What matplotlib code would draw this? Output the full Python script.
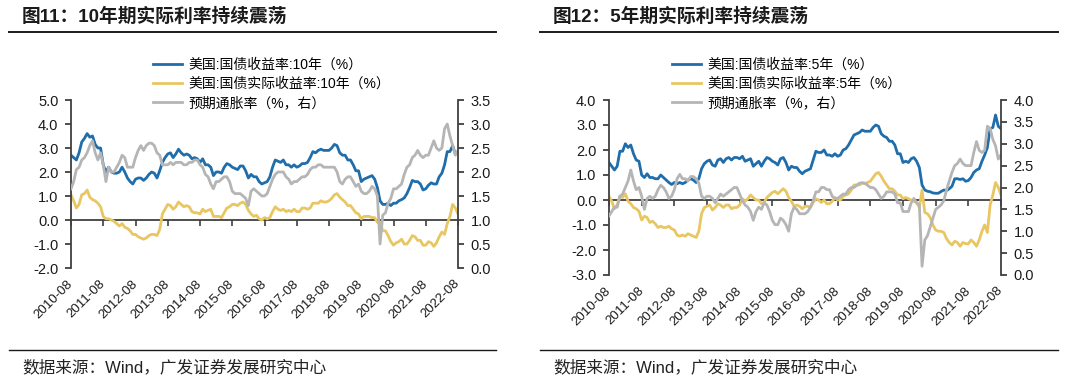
"""Two-panel chart: US 10Y / 5Y nominal yield, real (TIPS) yield and breakeven inflation.

Monthly values read off the reference picture, 2010-08 .. 2022-08.
Left axis carries nominal and real yields, right axis the breakeven rate.
Writes out.png (1080x381).
"""
import numpy as np
import pandas as pd
import matplotlib
matplotlib.use("Agg")
import matplotlib.pyplot as plt
from matplotlib.lines import Line2D

plt.rcParams["font.family"] = ["Liberation Sans", "Noto Sans CJK SC", "DejaVu Sans"]

W, H = 1080, 381

# --- data (monthly, 2010-08 .. 2022-08) ---------------------------------
MONTHS = pd.date_range("2010-08-01", "2022-08-01", freq="MS").strftime("%Y-%m").tolist()

US10Y = [
    2.70, 2.60, 2.50, 2.80, 3.25,
    3.40, 3.60, 3.45, 3.50, 3.15, 3.00, 3.00, 2.30, 2.00, 2.20, 2.00, 1.95,
    1.95, 2.00, 2.20, 2.00, 1.75, 1.60, 1.50, 1.70, 1.75, 1.75, 1.65, 1.75,
    1.90, 2.00, 1.95, 1.75, 2.05, 2.40, 2.60, 2.75, 2.80, 2.60, 2.75, 2.95,
    2.80, 2.70, 2.75, 2.70, 2.55, 2.60, 2.55, 2.40, 2.55, 2.30, 2.30, 2.20,
    1.85, 2.00, 2.00, 1.95, 2.20, 2.35, 2.30, 2.20, 2.15, 2.10, 2.25, 2.25,
    2.05, 1.75, 1.90, 1.80, 1.80, 1.60, 1.50, 1.55, 1.60, 1.80, 2.20, 2.50,
    2.45, 2.40, 2.50, 2.30, 2.30, 2.20, 2.30, 2.20, 2.25, 2.35, 2.35, 2.40,
    2.60, 2.85, 2.80, 2.90, 2.95, 2.90, 2.90, 2.90, 3.00, 3.15, 3.10, 2.80,
    2.70, 2.70, 2.50, 2.50, 2.30, 2.05, 2.05, 1.60, 1.70, 1.75, 1.80, 1.85,
    1.70, 1.35, 0.80, 0.65, 0.65, 0.70, 0.60, 0.70, 0.70, 0.80, 0.85, 0.92,
    1.10, 1.35, 1.65, 1.60, 1.60, 1.50, 1.25, 1.30, 1.45, 1.55, 1.50, 1.50,
    1.80, 1.95, 2.30, 2.85, 2.85, 3.10, 2.75, 2.80,
]
TIPS10Y = [
    1.05, 0.80, 0.50, 0.65, 1.05,
    1.10, 1.25, 0.95, 0.85, 0.80, 0.70, 0.55, 0.15, 0.05, 0.05, 0.00, -0.05,
    -0.15, -0.25, -0.15, -0.30, -0.35, -0.45, -0.60, -0.60, -0.70, -0.75, -0.80, -0.75,
    -0.65, -0.60, -0.60, -0.65, -0.40, 0.25, 0.45, 0.65, 0.60, 0.45, 0.55, 0.75,
    0.65, 0.55, 0.60, 0.55, 0.35, 0.30, 0.30, 0.25, 0.45, 0.35, 0.40, 0.45,
    0.15, 0.15, 0.15, 0.10, 0.30, 0.50, 0.55, 0.65, 0.65, 0.60, 0.70, 0.75,
    0.65, 0.40, 0.25, 0.15, 0.20, 0.05, 0.00, 0.10, 0.05, 0.10, 0.35, 0.55,
    0.45, 0.40, 0.45, 0.35, 0.40, 0.35, 0.45, 0.35, 0.35, 0.50, 0.50, 0.45,
    0.50, 0.70, 0.70, 0.70, 0.80, 0.75, 0.75, 0.80, 0.90, 1.05, 1.10, 0.95,
    0.85, 0.75, 0.60, 0.60, 0.45, 0.30, 0.25, 0.05, 0.15, 0.15, 0.15, 0.10,
    0.10, -0.10, -0.10, -0.45, -0.45, -0.65, -0.90, -1.05, -0.95, -0.90, -0.80, -1.00,
    -1.00, -0.85, -0.65, -0.70, -0.85, -0.85, -1.05, -1.05, -0.90, -0.95, -1.10, -0.95,
    -0.70, -0.50, -0.60, -0.15, 0.15, 0.65, 0.50, 0.25,
]
BEI10Y = [
    1.65, 1.80, 2.05, 2.10, 2.25,
    2.30, 2.40, 2.55, 2.65, 2.40, 2.25, 2.40, 2.15, 1.80, 2.10, 2.00, 2.00,
    2.10, 2.20, 2.35, 2.30, 2.10, 2.10, 2.10, 2.30, 2.45, 2.55, 2.45, 2.55,
    2.60, 2.60, 2.55, 2.40, 2.35, 2.15, 2.15, 2.15, 2.20, 2.15, 2.20, 2.20,
    2.20, 2.15, 2.15, 2.20, 2.20, 2.25, 2.25, 2.15, 2.10, 1.95, 1.90, 1.75,
    1.65, 1.80, 1.80, 1.85, 1.90, 1.90, 1.80, 1.60, 1.55, 1.55, 1.55, 1.50,
    1.45, 1.30, 1.60, 1.65, 1.60, 1.55, 1.50, 1.50, 1.55, 1.70, 1.85, 1.95,
    2.00, 2.00, 2.00, 1.90, 1.85, 1.75, 1.80, 1.80, 1.85, 1.90, 1.90, 1.95,
    2.05, 2.10, 2.10, 2.15, 2.15, 2.10, 2.10, 2.10, 2.10, 2.10, 2.00, 1.80,
    1.75, 1.85, 1.90, 1.90, 1.80, 1.70, 1.75, 1.60, 1.55, 1.55, 1.60, 1.70,
    1.65, 1.50, 0.50, 1.10, 1.15, 1.35, 1.45, 1.65, 1.65, 1.70, 1.75, 1.95,
    2.10, 2.15, 2.30, 2.35, 2.45, 2.35, 2.30, 2.35, 2.35, 2.50, 2.65, 2.50,
    2.45, 2.50, 2.90, 3.00, 2.75, 2.55, 2.35, 2.45,
]

US5Y = [
    1.50, 1.35, 1.20, 1.35, 1.95,
    1.95, 2.25, 2.10, 2.20, 1.85, 1.60, 1.55, 1.00, 0.90, 1.05, 0.90, 0.90,
    0.85, 0.85, 1.00, 0.90, 0.80, 0.70, 0.62, 0.70, 0.65, 0.70, 0.65, 0.70,
    0.80, 0.85, 0.80, 0.70, 0.85, 1.25, 1.45, 1.55, 1.60, 1.40, 1.35, 1.60,
    1.65, 1.50, 1.65, 1.70, 1.60, 1.70, 1.70, 1.65, 1.75, 1.55, 1.60, 1.65,
    1.35, 1.45, 1.55, 1.35, 1.55, 1.70, 1.65, 1.55, 1.50, 1.40, 1.65, 1.70,
    1.50, 1.20, 1.35, 1.30, 1.30, 1.15, 1.05, 1.15, 1.20, 1.25, 1.60, 1.95,
    1.90, 1.90, 2.00, 1.80, 1.80, 1.75, 1.85, 1.75, 1.80, 2.00, 2.05, 2.20,
    2.40, 2.60, 2.65, 2.70, 2.80, 2.75, 2.75, 2.75, 2.90, 3.00, 2.95, 2.65,
    2.55, 2.50, 2.35, 2.35, 2.20, 1.85, 1.85, 1.50, 1.55, 1.50, 1.65, 1.70,
    1.55, 1.30, 0.60, 0.40, 0.35, 0.33, 0.28, 0.27, 0.27, 0.34, 0.40, 0.38,
    0.45, 0.55, 0.85, 0.85, 0.82, 0.85, 0.75, 0.78, 0.90, 1.10, 1.20, 1.25,
    1.55, 1.80, 2.10, 2.85, 2.90, 3.40, 2.95, 2.85,
]
TIPS5Y = [
    0.15, -0.05, -0.35, -0.20, 0.15,
    0.10, 0.25, -0.05, -0.15, -0.30, -0.35, -0.45, -0.80, -0.65, -0.70, -0.90, -0.85,
    -0.95, -1.10, -1.05, -1.10, -1.10, -1.05, -1.15, -1.20, -1.40, -1.45, -1.40, -1.45,
    -1.35, -1.40, -1.45, -1.50, -1.25, -0.55, -0.30, -0.25, -0.20, -0.40, -0.30, -0.15,
    -0.20, -0.30, -0.20, -0.20, -0.35, -0.30, -0.30, -0.20, 0.05, -0.05, 0.05, 0.20,
    0.10, 0.00, 0.00, -0.15, -0.10, 0.10, 0.20, 0.30, 0.35, 0.25, 0.35, 0.45,
    0.35, 0.10, -0.05, -0.25, -0.20, -0.25, -0.35, -0.25, -0.25, -0.30, -0.10, 0.05,
    0.00, -0.10, 0.00, -0.15, -0.15, -0.05, 0.10, 0.00, 0.00, 0.15, 0.20, 0.25,
    0.40, 0.60, 0.60, 0.60, 0.70, 0.65, 0.70, 0.75, 0.90, 1.05, 1.10, 0.95,
    0.75, 0.60, 0.45, 0.45, 0.35, 0.20, 0.20, 0.05, 0.10, 0.05, 0.00, -0.05,
    -0.10, -0.30, 0.40, -0.50, -0.55, -0.70, -1.00, -1.20, -1.25, -1.25, -1.30, -1.55,
    -1.70, -1.80, -1.65, -1.70, -1.85, -1.70, -1.75, -1.75, -1.60, -1.70, -1.85, -1.60,
    -1.25, -1.00, -1.30, -0.20, 0.20, 0.70, 0.50, 0.20,
]
BEI5Y = [
    1.35, 1.45, 1.55, 1.55, 1.80,
    1.85, 2.00, 2.15, 2.40, 2.15, 1.95, 2.00, 1.80, 1.50, 1.75, 1.80, 1.75,
    1.80, 1.95, 2.05, 2.00, 1.90, 1.75, 1.80, 1.95, 2.20, 2.30, 2.20, 2.20,
    2.15, 2.25, 2.25, 2.20, 2.10, 1.80, 1.75, 1.80, 1.80, 1.75, 1.65, 1.75,
    1.85, 1.80, 1.85, 1.90, 1.95, 2.00, 2.00, 1.85, 1.70, 1.60, 1.55, 1.45,
    1.25, 1.45, 1.55, 1.50, 1.65, 1.60, 1.45, 1.25, 1.15, 1.15, 1.30, 1.25,
    1.15, 1.00, 1.40, 1.55, 1.50, 1.40, 1.40, 1.40, 1.45, 1.55, 1.70, 1.90,
    1.90, 2.00, 2.00, 1.95, 1.95, 1.80, 1.75, 1.75, 1.80, 1.85, 1.85, 1.95,
    2.00, 2.00, 2.05, 2.10, 2.10, 2.10, 2.05, 2.00, 2.00, 1.95, 1.85, 1.75,
    1.80, 1.90, 1.90, 1.90, 1.85, 1.65, 1.65, 1.45, 1.45, 1.45, 1.65, 1.75,
    1.65, 1.60, 0.20, 0.80, 0.90, 1.10, 1.30, 1.50, 1.55, 1.60, 1.70, 1.95,
    2.15, 2.35, 2.50, 2.55, 2.65, 2.55, 2.50, 2.50, 2.50, 2.80, 3.05, 2.85,
    2.80, 2.85, 3.40, 3.35, 3.10, 2.95, 2.65, 2.75,
]

LEFT_TITLE = "图11：10年期实际利率持续震荡"
RIGHT_TITLE = "图12：5年期实际利率持续震荡"
LEFT_LABELS = ["美国:国债收益率:10年（%）", "美国:国债实际收益率:10年（%）", "预期通胀率（%，右）"]
RIGHT_LABELS = ["美国:国债收益率:5年（%）", "美国:国债实际收益率:5年（%）", "预期通胀率（%，右）"]
SOURCE = "数据来源：Wind，广发证券发展研究中心"

BLUE = "#1f6dab"
GOLD = "#e8c662"
GREY = "#b5b5b5"
SPINE = "#404040"


def fx(px):
    return px / W


def fy(py):
    return 1 - py / H


def draw_panel(fig, box, nominal, real, bei, left_ticks, right_ticks, labels, legend_x):
    x0, x1, y_top, y_bot = box
    ax = fig.add_axes([fx(x0), fy(y_bot), fx(x1 - x0), fy(y_top) - fy(y_bot)])
    ax2 = ax.twinx()
    x = np.arange(len(MONTHS))

    l1, = ax.plot(x, nominal, color=BLUE, lw=2.0)
    l2, = ax.plot(x, real, color=GOLD, lw=2.0)
    l3, = ax2.plot(x, bei, color=GREY, lw=2.0)

    ax.set_xlim(0, len(MONTHS) - 1)
    ax.set_ylim(left_ticks[0], left_ticks[-1])
    ax2.set_ylim(right_ticks[0], right_ticks[-1])
    ax.set_yticks(left_ticks)
    ax.set_yticklabels([f"{v:.1f}" for v in left_ticks])
    ax2.set_yticks(right_ticks)
    ax2.set_yticklabels([f"{v:.1f}" for v in right_ticks])

    xt = x[::12]
    ax.set_xticks(xt)
    ax.set_xticklabels([MONTHS[i] for i in xt], rotation=45, ha="right",
                       va="center", rotation_mode="anchor")
    ax.tick_params(axis="x", length=0, pad=10, labelsize=9.5, labelcolor="#1a1a1a")
    ax.tick_params(axis="y", direction="out", length=4, width=1.3, color=SPINE,
                   labelsize=10.5, labelcolor="#1a1a1a", pad=5)
    ax2.tick_params(axis="y", direction="out", length=4, width=1.3, color=SPINE,
                    labelsize=10.5, labelcolor="#1a1a1a", pad=5)

    for a in (ax, ax2):
        for s in ("top", "bottom"):
            a.spines[s].set_visible(False)
    ax.spines["right"].set_visible(False)
    ax2.spines["left"].set_visible(False)
    ax.spines["left"].set_color(SPINE)
    ax.spines["left"].set_linewidth(1.3)
    ax2.spines["right"].set_color(SPINE)
    ax2.spines["right"].set_linewidth(1.3)

    # horizontal axis line at zero with downward tick marks
    lo, hi = ax.get_ylim()
    zero = ax.secondary_xaxis((0 - lo) / (hi - lo))
    zero.set_xticks(xt)
    zero.tick_params(axis="x", direction="out", length=4, width=1.2, color=SPINE,
                     labelbottom=False, labeltop=False)
    for s in zero.spines.values():
        s.set_color(SPINE)
        s.set_linewidth(1.3)

    fig.legend([l1, l2, l3], labels, loc="upper left",
               bbox_to_anchor=(fx(legend_x), fy(58)), frameon=False,
               fontsize=10, handlelength=2.1, handletextpad=0.45,
               labelspacing=0.36, borderpad=0, borderaxespad=0)
    return ax


def main():
    fig = plt.figure(figsize=(W / 100, H / 100), dpi=100)

    draw_panel(fig, (71, 458, 100, 268), US10Y, TIPS10Y, BEI10Y,
               [-2, -1, 0, 1, 2, 3, 4, 5], [0, 0.5, 1, 1.5, 2, 2.5, 3, 3.5],
               LEFT_LABELS, 153)
    draw_panel(fig, (609, 1001, 100, 275), US5Y, TIPS5Y, BEI5Y,
               [-3, -2, -1, 0, 1, 2, 3, 4], [0, 0.5, 1, 1.5, 2, 2.5, 3, 3.5, 4],
               RIGHT_LABELS, 672)

    for tx, title, (lx0, lx1) in ((22, LEFT_TITLE, (9, 496)),
                                  (553, RIGHT_TITLE, (540, 1058))):
        fig.text(fx(tx), fy(17), title, fontsize=13.5, fontweight="bold",
                 color="#1a1a1a", va="center", ha="left")
        fig.add_artist(Line2D([fx(lx0), fx(lx1)], [fy(32), fy(32)],
                              transform=fig.transFigure, color="#1a1a1a", lw=1.4))
        fig.add_artist(Line2D([fx(lx0), fx(lx1)], [fy(350), fy(350)],
                              transform=fig.transFigure, color="#1a1a1a", lw=1.0))
        fig.text(fx(tx), fy(367), SOURCE, fontsize=12, color="#222222",
                 va="center", ha="left")

    fig.savefig("out.png", dpi=100)


if __name__ == "__main__":
    main()
